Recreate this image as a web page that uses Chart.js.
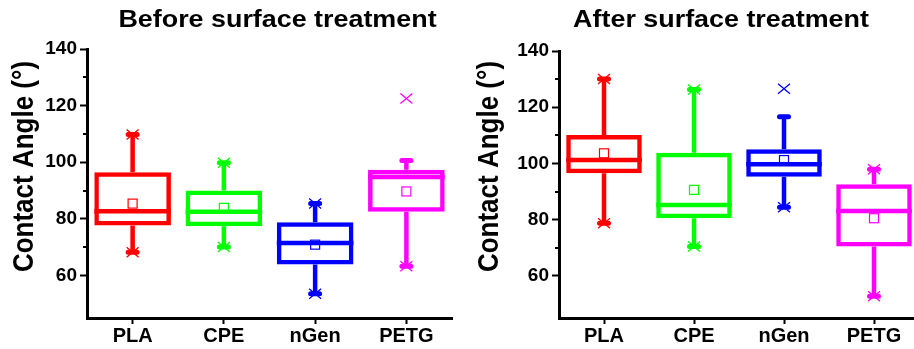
<!DOCTYPE html>
<html><head><meta charset="utf-8">
<script src="https://cdn.jsdelivr.net/npm/chart.js@4.4.1/dist/chart.umd.min.js"></script>
<style>
html,body{margin:0;padding:0;background:#fff;overflow:hidden;}
#wrap{position:relative;width:914px;height:349px;overflow:hidden;background:#fff;}
canvas{position:absolute;top:0;}
#c1{left:0;} #c2{left:460px;}
</style></head><body>
<div id="wrap"><canvas id="c1" width="460" height="349"></canvas><canvas id="c2" width="470" height="349"></canvas></div>
<script>
// ---------- data ----------
const categories = ['PLA', 'CPE', 'nGen', 'PETG'];
const seriesColors = ['#FF0000', '#00FF00', '#0000FF', '#FF00FF'];
const yTickLabels = [60, 80, 100, 120, 140];
const titleBefore = 'Before surface treatment';
const titleAfter = 'After surface treatment';
const yAxisTitle = 'Contact Angle (°)';

// Before surface treatment
const beforeQ1 = [77.7, 77.4, 63.9, 82.5];
const beforeMedian = [82.7, 82.5, 71.5, 94.8];
const beforeQ3 = [96.5, 90.0, 78.8, 97.4];
const beforeWhiskerLow = [68.2, 70.1, 53.6, 63.3];
const beforeWhiskerHigh = [109.8, 99.8, 85.4, 100.6];
const beforeMean = [85.4, 83.9, 70.9, 89.7];
const beforeMin = [68.2, 70.1, 53.6, 63.3];
const beforeMax = [109.8, 99.8, 85.4, 122.5];

// After surface treatment
const afterQ1 = [96.5, 80.5, 95.3, 70.4];
const afterMedian = [101.2, 85.2, 99.7, 83.1];
const afterQ3 = [110.1, 103.8, 105.0, 92.6];
const afterWhiskerLow = [78.7, 70.4, 84.4, 52.7];
const afterWhiskerHigh = [130.0, 126.3, 116.6, 97.9];
const afterMean = [103.6, 90.6, 101.2, 80.5];
const afterMin = [78.7, 70.4, 84.4, 52.7];
const afterMax = [130.0, 126.3, 126.6, 97.9];

// ---------- rendering ----------
const FONT = "'Liberation Sans', Arial, Helvetica, sans-serif";
Chart.defaults.font.family = FONT;
Chart.defaults.color = '#000';

const boxPlugin = {
  id: 'boxExtras',
  afterDatasetsDraw(chart, args, opts) {
    const ctx = chart.ctx, y = chart.scales.y;
    const meta = chart.getDatasetMeta(0);
    const d = opts.stats;
    const py = v => y.getPixelForValue(v);
    meta.data.forEach((bar, i) => {
      const col = seriesColors[i];
      const x = bar.x, half = bar.width / 2;
      ctx.save();
      ctx.strokeStyle = col;
      // whiskers
      ctx.lineWidth = opts.lw; ctx.lineCap = 'butt';
      ctx.beginPath();
      ctx.moveTo(x, py(d.q3[i])); ctx.lineTo(x, py(d.hi[i]));
      ctx.moveTo(x, py(d.q1[i])); ctx.lineTo(x, py(d.lo[i]));
      ctx.stroke();
      // caps
      ctx.lineCap = 'round'; ctx.lineWidth = opts.capW;
      ctx.beginPath();
      [d.hi[i], d.lo[i]].forEach(v => { ctx.moveTo(x - 4.5, py(v)); ctx.lineTo(x + 4.5, py(v)); });
      ctx.stroke();
      // median
      ctx.lineCap = 'butt'; ctx.lineWidth = opts.lw;
      ctx.beginPath();
      ctx.moveTo(x - half, py(d.med[i])); ctx.lineTo(x + half, py(d.med[i]));
      ctx.stroke();
      // mean square
      ctx.lineWidth = 1.2;
      const s = 4.5;
      ctx.strokeRect(x - s, py(d.mean[i]) - s, 2 * s, 2 * s);
      // min / max markers
      ctx.lineWidth = 1.3;
      ctx.beginPath();
      [d.min[i], d.max[i]].forEach(v => {
        const yy = py(v);
        ctx.moveTo(x - 6, yy - 5); ctx.lineTo(x + 6, yy + 5);
        ctx.moveTo(x - 6, yy + 5); ctx.lineTo(x + 6, yy - 5);
      });
      ctx.stroke();
      ctx.restore();
    });
  },
  afterDraw(chart, args, opts) {
    const ctx = chart.ctx, y = chart.scales.y, area = chart.chartArea;
    ctx.save();
    // minor ticks
    ctx.strokeStyle = '#000'; ctx.lineWidth = 2;
    ctx.beginPath();
    y.ticks.forEach(t => {
      if (t.value % 20 === 10) {
        const yy = Math.round(y.getPixelForValue(t.value));
        ctx.moveTo(area.left - 4, yy); ctx.lineTo(area.left, yy);
      }
    });
    ctx.stroke();
    // chart title
    ctx.fillStyle = '#000';
    ctx.font = 'bold 24px ' + FONT;
    ctx.textAlign = 'center'; ctx.textBaseline = 'alphabetic';
    ctx.save();
    ctx.translate(opts.titleX, 27);
    ctx.scale(1.12, 1);
    ctx.fillText(opts.title, 0, 0);
    ctx.restore();
    // y axis title
    ctx.save();
    ctx.font = 'bold 26px ' + FONT;
    ctx.translate(opts.yTitleX, 166.5);
    ctx.rotate(-Math.PI / 2);
    ctx.scale(1, 1.12);
    ctx.fillText(yAxisTitle, 0, 0);
    ctx.restore();
    ctx.restore();
  }
};

function makeChart(id, stats, o) {
  const floating = stats.q1.map((v, i) => [v, stats.q3[i]]);
  return new Chart(document.getElementById(id), {
    type: 'bar',
    data: {
      labels: categories,
      datasets: [{
        data: floating,
        backgroundColor: 'rgba(255,255,255,0)',
        borderColor: seriesColors,
        borderWidth: o.lw,
        borderSkipped: false,
        inflateAmount: 0,
        barPercentage: 0.84,
        categoryPercentage: 1
      }]
    },
    options: {
      responsive: false,
      animation: false,
      events: [],
      layout: { padding: { top: o.top, right: o.right, left: 0, bottom: 0 } },
      plugins: {
        legend: { display: false },
        tooltip: { enabled: false },
        title: { display: false },
        boxExtras: { stats: stats, lw: o.lw, capW: 5, title: o.title, titleX: o.titleX, yTitleX: o.yTitleX }
      },
      scales: {
        x: {
          grid: { offset: false, drawOnChartArea: false, tickLength: 6, tickWidth: 2, tickColor: '#000' },
          border: { color: '#000', width: 3 },
          ticks: { font: { size: 20, weight: 'bold' }, color: '#000', padding: 0, maxRotation: 0 },
          afterFit(scale) { scale.height = 31; }
        },
        y: {
          min: 45, max: 140,
          grid: {
            drawOnChartArea: false, tickLength: 7, tickWidth: 2,
            tickColor: c => (c.tick && yTickLabels.includes(c.tick.value)) ? '#000' : 'rgba(0,0,0,0)'
          },
          border: { color: '#000', width: 3 },
          ticks: {
            stepSize: 10, autoSkip: false, padding: 3,
            font: { size: 19, weight: 'bold' }, color: '#000',
            callback: v => yTickLabels.includes(v) ? String(v) : ''
          },
          afterFit(scale) { scale.width = o.axisLeft; }
        }
      }
    },
    plugins: [boxPlugin]
  });
}

makeChart('c1', {
  q1: beforeQ1, med: beforeMedian, q3: beforeQ3, lo: beforeWhiskerLow, hi: beforeWhiskerHigh,
  mean: beforeMean, min: beforeMin, max: beforeMax
}, { top: 49, right: 8, axisLeft: 87, lw: 4.5, title: titleBefore, titleX: 277.5, yTitleX: 33.3 });

makeChart('c2', {
  q1: afterQ1, med: afterMedian, q3: afterQ3, lo: afterWhiskerLow, hi: afterWhiskerHigh,
  mean: afterMean, min: afterMin, max: afterMax
}, { top: 51, right: 11, axisLeft: 99, lw: 4.5, title: titleAfter, titleX: 261, yTitleX: 38.3 });
</script>
</body></html>
